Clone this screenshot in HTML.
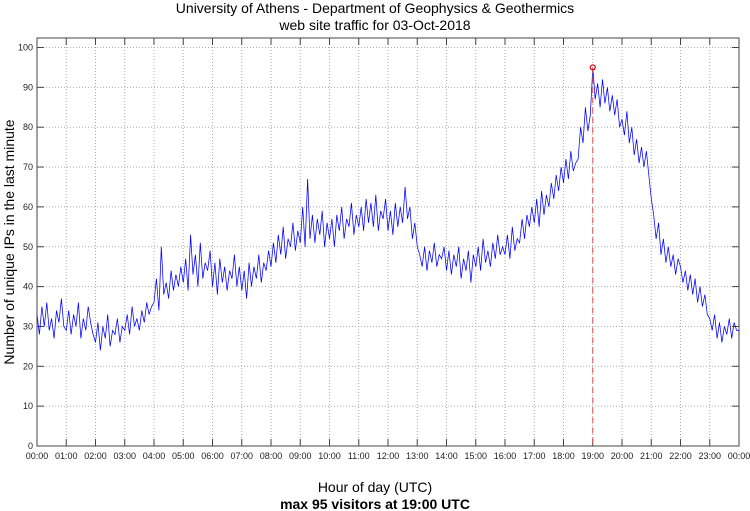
<!DOCTYPE html>
<html><head><meta charset="utf-8"><style>
body{margin:0;background:#fff;}
svg{display:block;font-family:"Liberation Sans",sans-serif;}
</style></head><body>
<svg id="chart" width="750" height="511">
<text x="375" y="13" text-anchor="middle" font-size="14">University of Athens - Department of Geophysics &amp; Geothermics</text>
<text x="375" y="30" text-anchor="middle" font-size="14">web site traffic for 03-Oct-2018</text>
<text x="375" y="492" text-anchor="middle" font-size="14">Hour of day (UTC)</text>
<text x="375" y="509" text-anchor="middle" font-size="14" font-weight="bold">max 95 visitors at 19:00 UTC</text>
<text transform="translate(14,242) rotate(-90)" text-anchor="middle" font-size="14">Number of unique IPs in the last minute</text>
<g id="grid"></g><g id="ticks"></g><g id="series"></g>
</svg>
<script>
const hourLabels=["00:00","01:00","02:00","03:00","04:00","05:00","06:00","07:00","08:00","09:00","10:00","11:00","12:00","13:00","14:00","15:00","16:00","17:00","18:00","19:00","20:00","21:00","22:00","23:00","00:00"];
const yTicks=[0,10,20,30,40,50,60,70,80,90,100];
const visitors=[
33,28,35,30,36,29,32,27,34,31,37,30,
29,34,28,33,30,36,27,32,29,35,31,28,
26,31,24,30,27,33,25,29,28,32,26,30,
29,33,28,35,30,32,29,34,31,36,33,35,
36,42,34,50,38,41,37,44,39,43,40,45,
41,47,39,53,43,48,40,51,42,46,44,49,
40,46,38,47,41,45,39,44,42,48,40,45,
39,44,37,46,40,45,42,48,41,46,44,49,
45,51,46,53,48,55,47,52,50,56,49,54,
51,60,50,67,52,58,51,57,53,59,50,56,
52,57,50,58,54,60,52,57,55,61,53,58,
55,60,54,62,56,61,55,63,54,59,57,62,
54,59,53,61,55,60,56,65,57,60,52,56,
50,48,45,50,44,49,46,51,45,48,47,50,
44,49,43,48,45,50,42,47,44,49,41,48,
45,50,44,52,46,49,45,51,47,53,48,50,
48,53,47,55,49,52,51,57,52,58,55,60,
56,62,55,64,58,63,60,66,62,68,64,70,
66,72,67,74,69,71,72,80,76,85,79,83,
95,87,91,85,92,86,90,84,88,83,87,80,
82,78,84,76,80,73,77,71,75,70,74,68,
62,58,52,56,48,52,46,50,45,48,43,47,
45,41,44,39,43,38,42,36,40,35,38,33,
32,29,33,27,31,26,30,28,32,27,31,29,29];
const minutesPerPoint=5;
const L=37,R=739,T=38,B=446;
const xs=h=>L+(R-L)*h/24;
const ys=v=>B-(B-47.5)*v/100;
const NS="http://www.w3.org/2000/svg";
function mk(t,a,p){const e=document.createElementNS(NS,t);for(const k in a)e.setAttribute(k,a[k]);p.appendChild(e);return e;}
const grid=document.getElementById('grid'),ticks=document.getElementById('ticks'),series=document.getElementById('series');
hourLabels.forEach((lab,i)=>{
  const x=xs(i);
  if(i>0&&i<24){const g=mk('line',{x1:x,x2:x,y1:T,y2:B,stroke:'#aaa','stroke-dasharray':'1,2','stroke-width':1},grid);
  
  }
  const t1=mk('line',{x1:x,x2:x,y1:B,y2:B-7,stroke:'#444'},ticks);
  
  
  const t2=mk('line',{x1:x,x2:x,y1:T,y2:T+7,stroke:'#444'},ticks);
  
  
  const tx=mk('text',{x:x,y:B+13,'text-anchor':'middle','font-size':9,fill:'#222'},ticks);tx.textContent=lab;
  
  
});
yTicks.forEach(v=>{
  const y=ys(v);
  if(v>0){const g=mk('line',{x1:L,x2:R,y1:y,y2:y,stroke:'#aaa','stroke-dasharray':'1,2','stroke-width':1},grid);
  
  }
  const t1=mk('line',{x1:L,x2:L+7,y1:y,y2:y,stroke:'#444'},ticks);
  
  
  const t2=mk('line',{x1:R,x2:R-7,y1:y,y2:y,stroke:'#444'},ticks);
  
  
  const tx=mk('text',{x:L-4,y:y+3,'text-anchor':'end','font-size':9,fill:'#222'},ticks);tx.textContent=v;
  
  
});
const box=mk('rect',{x:L,y:T,width:R-L,height:B-T,fill:'none',stroke:'#444'},ticks);


const pts=visitors.map((v,i)=>xs(i*minutesPerPoint/60).toFixed(1)+','+ys(v).toFixed(1)).join(' ');
const line=mk('polyline',{points:pts,fill:'none',stroke:'#0000ff','stroke-width':0.75},series);


let mi=0;visitors.forEach((v,i)=>{if(v>visitors[mi])mi=i;});
const mx=xs(mi*minutesPerPoint/60),my=ys(visitors[mi]);
const dl=mk('line',{x1:mx,x2:mx,y1:my,y2:B,stroke:'#e05050','stroke-dasharray':'6,4','stroke-width':1},series);


const c=mk('circle',{cx:mx,cy:my,r:2.5,fill:'none',stroke:'#e00000','stroke-width':1.2},series);


</script>
</body></html>
